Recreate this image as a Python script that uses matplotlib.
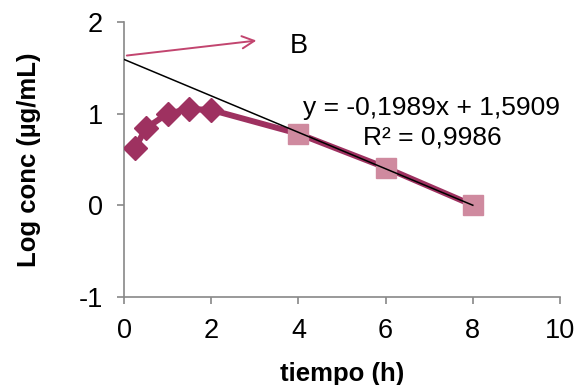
import matplotlib.pyplot as plt
import numpy as np

plt.rcParams['font.family'] = ['Liberation Sans', 'DejaVu Sans']
plt.rcParams['axes.unicode_minus'] = False

# datos
tiempo = [0.25, 0.5, 1, 1.5, 2, 4, 6, 8]
log_conc = [0.62, 0.84, 1.0, 1.05, 1.04, 0.78, 0.41, 0.0]
t_elim = [4, 6, 8]
log_elim = [0.78, 0.41, 0.0]
pendiente = -0.1989
intercepto = 1.5909
t_fit = [0, 8]

fig = plt.figure(figsize=(5.77, 3.85), dpi=100)
ax = fig.add_axes([0.215, 0.229, 0.7555, 0.714])

ax.plot(tiempo, log_conc, color='#9e3160', lw=4.3, zorder=2)
ax.plot(tiempo[:5], log_conc[:5], 'D', color='#9e3160', ms=12.5, zorder=3)
ax.plot(t_elim, log_elim, 's', color='#cf8a9f', ms=14, zorder=3)
y_fit = [pendiente * t + intercepto for t in t_fit]
ax.plot(t_fit, y_fit, color='black', lw=1.1, zorder=4)

# flecha
ax.annotate('', xy=(3.1, 1.8), xytext=(0, 1.63),
            arrowprops=dict(arrowstyle='->', color='#c2456f', lw=1.4,
                            mutation_scale=22),
            annotation_clip=False)
ax.text(3.8, 1.74, 'B', fontsize=19.5, va='center', ha='left')

ax.text(7.06, 1.065, 'y = -0,1989x + 1,5909', fontsize=19, ha='center', va='center')
ax.text(7.06, 0.74, 'R² = 0,9986', fontsize=19, ha='center', va='center')

ax.set_xlim(0, 10)
ax.set_ylim(-1, 2)
ax.set_xticks([0, 2, 4, 6, 8, 10])
ax.set_yticks([-1, 0, 1, 2])
for s in ['top', 'right']:
    ax.spines[s].set_visible(False)
for s in ['left', 'bottom']:
    ax.spines[s].set_color('#888888')
    ax.spines[s].set_linewidth(1.2)
ax.tick_params(axis='both', direction='out', length=5, width=1.2,
               color='#888888', labelsize=19.5, pad=10)
ax.set_xlabel('tiempo (h)', fontsize=18.5, fontweight='bold', labelpad=13)
ax.set_ylabel('Log conc (µg/mL)', fontsize=18.5, fontweight='bold', labelpad=27)

fig.savefig('out.png', dpi=100)
